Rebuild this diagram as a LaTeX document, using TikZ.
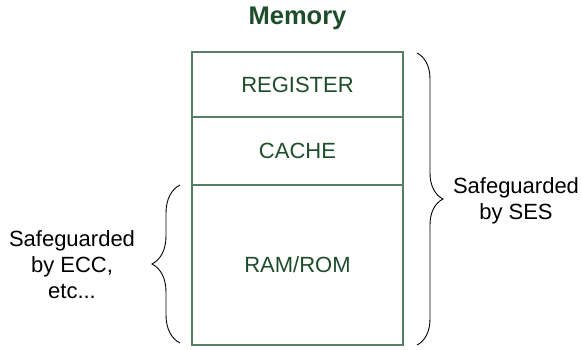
\documentclass[tikz,border=0pt]{standalone}
\usepackage{fontspec}
\setmainfont{Liberation Sans}
\usetikzlibrary{decorations.pathreplacing}
\definecolor{memgreen}{HTML}{1E4D2B}
\definecolor{memedge}{HTML}{567F63}
\tikzset{
  memcell/.style={draw=memedge, line width=1.1pt, minimum width=211pt, inner sep=0pt,
    text=memgreen, font=\fontsize{22}{26}\selectfont},
  sidelabel/.style={align=center, inner sep=0pt, font=\fontsize{22}{26}\selectfont},
  bracket/.style={draw=black, line width=0.9pt, decorate,
    decoration={brace, amplitude=#1}},
}
\begin{document}
\begin{tikzpicture}[x=1pt, y=-1pt]
  \useasboundingbox (0,0) rectangle (582,349);

  % title
  \node[anchor=base, inner sep=0pt, text=memgreen, font=\fontsize{25.5}{30}\selectfont\bfseries]
    (title) at (297.5,24.5) {Memory};

  % memory hierarchy stack
  \node[memcell, minimum height=65pt] (reg) at (297.5,84.5) {REGISTER};
  \node[memcell, minimum height=68pt] (cache) at (297.5,151) {CACHE};
  \node[memcell, minimum height=160pt] (ram) at (297.5,265) {RAM/ROM};

  % brace end points
  \coordinate (rtop) at (417,53);
  \coordinate (rbot) at (417,345);
  \coordinate (ltop) at (180,185);
  \coordinate (lbot) at (180,343);

  \draw[bracket=26pt] (rtop) -- (rbot);
  \draw[bracket=28pt] (lbot) -- (ltop);

  % side labels
  \node[sidelabel] (ses) at (516,201) {Safeguarded\\by SES};
  \node[sidelabel] (ecc) at (72,264.5) {Safeguarded\\by ECC,\\etc...};
\end{tikzpicture}
\end{document}
